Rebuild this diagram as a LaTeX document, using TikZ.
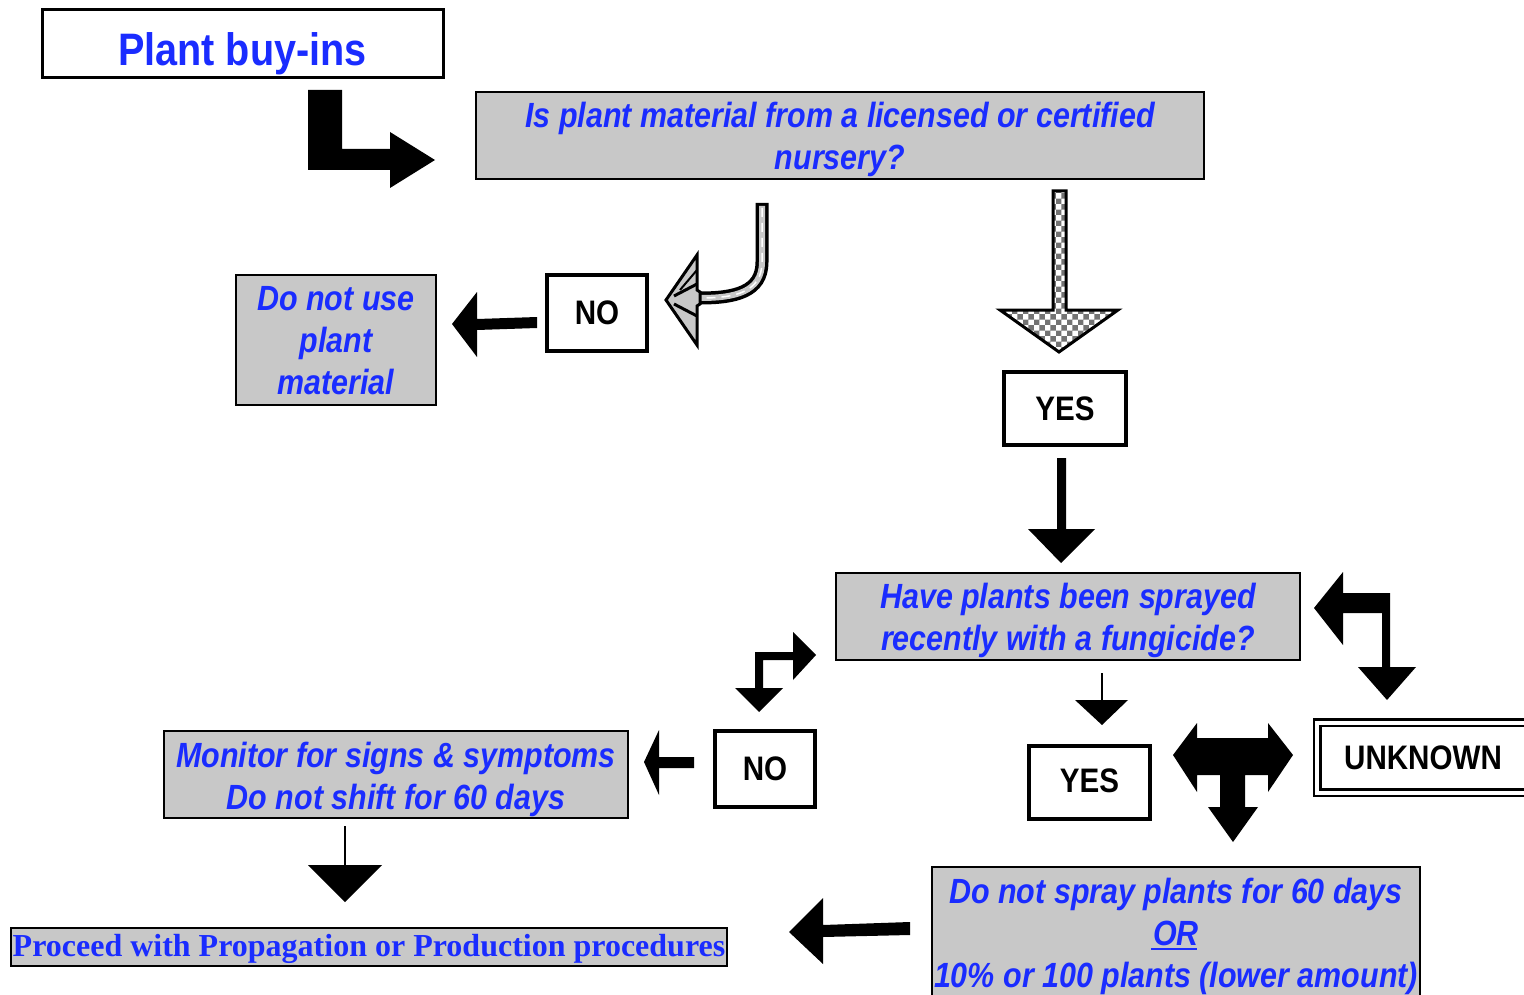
\documentclass[tikz,border=0pt]{standalone}
\usepackage{fontspec}
\setmainfont{Liberation Sans}
\newfontfamily\nf[FakeStretch=0.87]{Liberation Sans}
\newfontfamily\tf{Liberation Serif}
\usetikzlibrary{patterns}
\definecolor{tblue}{RGB}{26,44,255}
\definecolor{boxgray}{RGB}{200,200,200}
\newcommand\myul[1]{\setbox0\hbox{#1}\rlap{\hspace{-2pt}\rule[-5pt]{\wd0}{2.5pt}}\box0}
\newcommand\dn[2]{\raisebox{-#1}[\height][\depth]{\begin{tabular}{@{}c@{}}#2\end{tabular}}}
\tikzset{
  qbox/.style={draw=black, fill=boxgray, line width=1.5pt, text=tblue,
    font=\nf\bfseries\itshape\fontsize{35}{42}\selectfont, align=center, inner sep=0pt},
  ansbox/.style={draw=black, fill=white, line width=3.5pt,
    font=\nf\bfseries\fontsize{34}{40}\selectfont, inner sep=0pt},
  blk/.style={fill=black, line join=miter},
}
\begin{document}
\begin{tikzpicture}[x=1pt,y=-1pt]
\useasboundingbox (0,0) rectangle (1524,995);

% boxes
\node[ansbox, line width=3pt, minimum width=401pt, minimum height=68pt, text=tblue,
  font=\nf\bfseries\fontsize{45.5}{50}\selectfont] (buy) at (242.5,44) {\dn{12pt}{Plant buy-ins}};
\node[qbox, minimum width=728pt, minimum height=87pt] (q1) at (840,135.5)
  {\dn{5pt}{Is plant material from a licensed or certified\\nursery?}};
\node[qbox, minimum width=200pt, minimum height=130pt] (dnu) at (336,340)
  {\dn{4pt}{Do not use\\plant\\material}};
\node[ansbox, line width=4.5pt, minimum width=100pt, minimum height=76pt] (no1) at (597,313) {NO};
\node[ansbox, line width=3.5pt, minimum width=122pt, minimum height=73pt] (yes1) at (1065,408.5) {YES};
\node[qbox, minimum width=464pt, minimum height=87pt] (q2) at (1068,616.5)
  {\dn{5pt}{Have plants been sprayed\\recently with a fungicide?}};
\node[qbox, minimum width=464pt, minimum height=87pt] (mon) at (396,774.5)
  {\dn{5.5pt}{Monitor for signs \& symptoms\\Do not shift for 60 days}};
\node[ansbox, line width=4.5pt, minimum width=100pt, minimum height=76pt] (no2) at (765,769) {NO};
\node[ansbox, line width=3.5pt, minimum width=121pt, minimum height=73pt] (yes2) at (1089.5,782.5) {\dn{1.5pt}{YES}};
\node[ansbox, line width=2.5pt, double=white, double distance=4pt, minimum width=212pt,
  minimum height=70pt] (unk) at (1423,757.5) {UNKNOWN};
\node[qbox, minimum width=488pt, minimum height=132pt] (dns) at (1176,933)
  {\dn{4pt}{Do not spray plants for 60 days\\\myul{OR}\\10\% or 100 plants (lower amount)}};
\node[draw=black, fill=boxgray, line width=2.5pt, inner sep=0pt, minimum width=716pt,
  minimum height=38pt, text=tblue, font=\tf\bfseries\fontsize{32}{36}\selectfont]
  (proc) at (369,947) {\dn{2.5pt}{Proceed with Propagation or Production procedures}};

% L arrow
\fill[blk] (308,90) -- (342,90) -- (342,149) -- (390,149) -- (390,132) -- (435,160)
  -- (390,188) -- (390,170) -- (308,170) -- cycle;

% curved striped arrow
\draw[line width=13pt, black] (762,203) -- (762,262) .. controls (762,292) and (735,298) .. (700,298);
\draw[line width=6pt, boxgray] (762,206) -- (762,262) .. controls (762,292) and (735,298) .. (700,298);
\draw[line width=1.5pt, white, dash pattern=on 9pt off 6pt] (762,208) -- (762,262) .. controls (762,292) and (735,298) .. (702,298);
\draw[line width=3pt, fill=boxgray, line join=miter] (697,255) -- (697,290) -- (700,292) -- (700,304)
  -- (697,306) -- (697,345) -- (666,300) -- cycle;
\draw[line width=3pt] (674,296) -- (697,284);
\draw[line width=3pt] (674,304) -- (697,316);
\draw[line width=2pt] (680,290) -- (697,270);

% NO -> do not use
\fill[blk] (537,317) -- (477,319) -- (477,292) -- (452,324) -- (477,357) -- (477,330)
  -- (537,328) -- cycle;

% checkered arrow
\draw[line width=3pt, line join=miter, preaction={fill=white}, pattern=checkerboard,
  pattern color=black!55]
  (1053,191) -- (1066,191) -- (1066,310) -- (1118,310) -- (1059,352) -- (1000,310)
  -- (1053,310) -- cycle;

% YES -> q2
\fill[blk] (1057,458) -- (1066,458) -- (1066,529) -- (1095,529) -- (1061,563)
  -- (1028,529) -- (1057,529) -- cycle;

% right double bent arrow
\fill[blk] (1314,608) -- (1343,572) -- (1343,593) -- (1390,593) -- (1390,667) -- (1416,667)
  -- (1387,700) -- (1358,667) -- (1382,667) -- (1382,613) -- (1343,613) -- (1343,645) -- cycle;

% left double bent arrow
\fill[blk] (755,652) -- (793,652) -- (793,632) -- (816,655) -- (793,680) -- (793,660)
  -- (763,660) -- (763,688) -- (783,688) -- (759,712) -- (735,688) -- (755,688) -- cycle;

% NO -> monitor
\fill[blk] (694,757) -- (659,757) -- (659,730) -- (644,762) -- (659,795) -- (659,768)
  -- (694,768) -- cycle;

% monitor -> proceed
\draw[line width=1.5pt] (345,826) -- (345,866);
\fill[blk] (308,865) -- (382,865) -- (345,902) -- cycle;

% small down arrow to YES
\draw[line width=2pt] (1102,673) -- (1102,701);
\fill[blk] (1075,700) -- (1128,700) -- (1102,725) -- cycle;

% T arrow
\fill[blk] (1173,755) -- (1197,723) -- (1197,738) -- (1268,738) -- (1268,723) -- (1293,755)
  -- (1268,792) -- (1268,775) -- (1245,775) -- (1245,807) -- (1258,807) -- (1233,842)
  -- (1208,807) -- (1220,807) -- (1220,775) -- (1197,775) -- (1197,792) -- cycle;

% dns -> proceed
\fill[blk] (910,922) -- (823,925) -- (823,898) -- (789,932) -- (823,964) -- (823,937)
  -- (910,935) -- cycle;
\end{tikzpicture}
\end{document}
